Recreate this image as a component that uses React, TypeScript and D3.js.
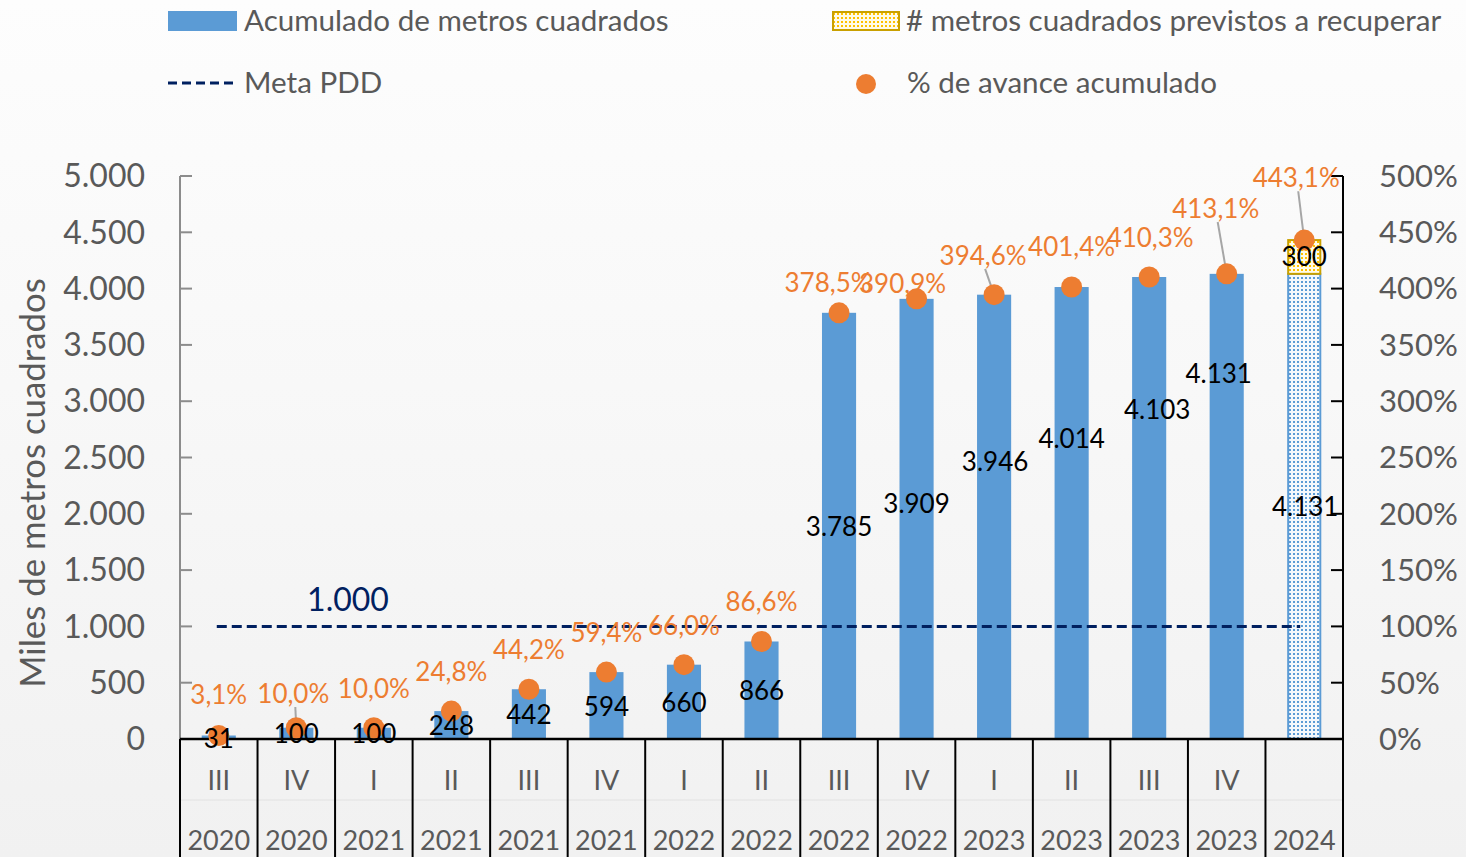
import React from "react";
import * as d3 from "d3";

const quarters = ["III", "IV", "I", "II", "III", "IV", "I", "II", "III", "IV", "I", "II", "III", "IV", ""];
const years = ["2020", "2020", "2021", "2021", "2021", "2021", "2022", "2022", "2022", "2022", "2023", "2023", "2023", "2023", "2024"];
const accumulated = [31, 100, 100, 248, 442, 594, 660, 866, 3785, 3909, 3946, 4014, 4103, 4131, 4131];
const recover = [0, 0, 0, 0, 0, 0, 0, 0, 0, 0, 0, 0, 0, 0, 300];
const progressPct = [3.1, 10.0, 10.0, 24.8, 44.2, 59.4, 66.0, 86.6, 378.5, 390.9, 394.6, 401.4, 410.3, 413.1, 443.1];
const metaPDD = 1000;
const leftTicks = [0, 500, 1000, 1500, 2000, 2500, 3000, 3500, 4000, 4500, 5000];
const rightTicks = [0, 50, 100, 150, 200, 250, 300, 350, 400, 450, 500];

// label placement (in axis units / px offsets)
const valueLabelAt = [0, 44, 44, 115, 213, 284, 320, 426, 1883, 2087, 2460, 2664, 2922, 3242, 2060];
const valueLabelDx = [0, 0, 0, 0, 0, 0, 0, 0, 0, 0, 1, 0, 8, -8, 1];
const pctLabelAt = [39, 40, 44.4, 59.5, 79, 94.1, 100.4, 121.7, 405, 404, 429, 437, 445, 470.7, 498];
const pctLabelDx = [0, -3, 0, 0, 0, 0, 0, 0, -11, -14, -11, 0, 1, -11, -8];
const leaderIdx = [1, 10, 13, 14];

const FONT = "Lato, 'Open Sans', sans-serif";
const GRAY = "#595959";
const BLUE = "#5B9BD5";
const ORANGE = "#ED7D31";
const NAVY = "#002060";

const fmtNum = (v: number) => d3.format(",")(v).replace(/,/g, ".");
const fmtPct = (v: number) => v.toFixed(1).replace(".", ",") + "%";

export default function App() {
  const W = 1466, H = 857;
  const x0 = 180, x1 = 1343, yTop = 176, yBot = 739;
  const x = d3.scaleBand<number>().domain(d3.range(accumulated.length)).range([x0, x1]).padding(0);
  const bw = x.bandwidth() * 0.44;
  const cx = (i: number) => (x(i) as number) + x.bandwidth() / 2;
  const y = d3.scaleLinear().domain([0, 5000]).range([yBot, yTop]);
  const yp = d3.scaleLinear().domain([0, 500]).range([yBot, yTop]);
  const last = accumulated.length - 1;

  return (
    <svg width={W} height={H} style={{ position: "absolute", left: 0, top: 0 }} fontFamily={FONT}>
      <defs>
        <linearGradient id="bg" x1="0" y1="0" x2="0" y2="1">
          <stop offset="0" stopColor="#fdfdfd" />
          <stop offset="0.45" stopColor="#f8f8f8" />
          <stop offset="1" stopColor="#f1f1f1" />
        </linearGradient>
        <pattern id="bluedots" width="4" height="4" patternUnits="userSpaceOnUse">
          <rect width="4" height="4" fill="#f4f8fc" />
          <rect x="1" y="1" width="2" height="2" fill={BLUE} />
        </pattern>
        <pattern id="yellowdots" width="4" height="4" patternUnits="userSpaceOnUse">
          <rect width="4" height="4" fill="#fffbe8" />
          <rect x="1" y="1" width="2" height="2" fill="#FFC000" />
        </pattern>
      </defs>
      <rect width={W} height={H} fill="url(#bg)" />

      {/* Legend */}
      <rect x={168} y={11} width={69} height={20} fill={BLUE} />
      <text x={244} y={21} dy="0.35em" fontSize={29.6} fill={GRAY}>Acumulado de metros cuadrados</text>
      <line x1={168} x2={237} y1={83} y2={83} stroke={NAVY} strokeWidth={3} strokeDasharray="9 5" />
      <text x={244} y={83} dy="0.35em" fontSize={29.6} fill={GRAY}>Meta PDD</text>
      <rect x={833} y={12} width={66} height={18} fill="url(#yellowdots)" stroke="#C9A000" strokeWidth={2} />
      <text x={906} y={21} dy="0.35em" fontSize={29.6} fill={GRAY}># metros cuadrados previstos a recuperar</text>
      <circle cx={866} cy={84} r={10} fill={ORANGE} />
      <text x={907} y={83} dy="0.35em" fontSize={29.6} fill={GRAY}>% de avance acumulado</text>

      {/* Y axis title */}
      <text transform={`translate(33,483) rotate(-90)`} textAnchor="middle" dy="0.35em" fontSize={34.8} fill={GRAY}>
        Miles de metros cuadrados
      </text>

      {/* faint row separator */}
      <line x1={x0} x2={x1} y1={800} y2={800} stroke="#e2e2e2" strokeWidth={1} />

      {/* Bars */}
      {accumulated.map((v, i) =>
        i === last ? (
          <g key={i}>
            <rect x={cx(i) - bw / 2 + 1} y={y(v)} width={bw - 2} height={y(0) - y(v)} fill="url(#bluedots)" stroke={BLUE} strokeWidth={2} />
            <rect x={cx(i) - bw / 2 + 1} y={y(v + recover[i])} width={bw - 2} height={y(v) - y(v + recover[i])} fill="url(#yellowdots)" stroke="#C9A000" strokeWidth={2} />
          </g>
        ) : (
          <rect key={i} x={cx(i) - bw / 2} y={y(v)} width={bw} height={y(0) - y(v)} fill={BLUE} />
        )
      )}

      {/* Meta PDD */}
      <line x1={cx(0) - 2} x2={cx(last) - 4} y1={y(metaPDD)} y2={y(metaPDD)} stroke={NAVY} strokeWidth={3} strokeDasharray="10 5" />
      <text x={348} y={600} textAnchor="middle" dy="0.35em" fontSize={32} fill={NAVY}>{fmtNum(metaPDD)}</text>

      {/* Axes */}
      <line x1={x0} x2={x0} y1={yTop} y2={yBot} stroke="#8c8c8c" strokeWidth={2} />
      {leftTicks.map((t) => (
        <g key={t}>
          <line x1={x0} x2={x0 + 12} y1={y(t)} y2={y(t)} stroke="#8c8c8c" strokeWidth={2} />
          <text x={145} y={y(t)} dy="0.35em" textAnchor="end" fontSize={32} fill={GRAY}>{fmtNum(t)}</text>
        </g>
      ))}
      <line x1={x1} x2={x1} y1={yTop} y2={H} stroke="#000" strokeWidth={2} />
      {rightTicks.map((t) => (
        <g key={t}>
          <line x1={x1 - 12} x2={x1} y1={yp(t)} y2={yp(t)} stroke="#000" strokeWidth={2} />
          <text x={1379} y={yp(t)} dy="0.35em" textAnchor="start" fontSize={31} fill={GRAY}>{t}%</text>
        </g>
      ))}
      <line x1={x0} x2={x1} y1={yBot} y2={yBot} stroke="#000" strokeWidth={2.5} />
      {d3.range(accumulated.length + 1).map((i) => {
        const xx = i === accumulated.length ? x1 : (x(i) as number);
        return <line key={i} x1={xx} x2={xx} y1={yBot} y2={H} stroke="#000" strokeWidth={2} />;
      })}
      {quarters.map((q, i) => (
        <text key={"q" + i} x={cx(i)} y={781} dy="0.35em" textAnchor="middle" fontSize={27} fill={GRAY}>{q}</text>
      ))}
      {years.map((q, i) => (
        <text key={"y" + i} x={cx(i)} y={841} dy="0.35em" textAnchor="middle" fontSize={27} fill={GRAY}>{q}</text>
      ))}

      {/* Leader lines */}
      {leaderIdx.map((i) => (
        <line key={"l" + i} x1={cx(i) + pctLabelDx[i] + 2} y1={yp(pctLabelAt[i]) + 13} x2={cx(i)} y2={yp(progressPct[i])} stroke="#a6a6a6" strokeWidth={2} />
      ))}

      {/* Dots */}
      {progressPct.map((p, i) => (
        <circle key={"d" + i} cx={cx(i)} cy={yp(p)} r={10.5} fill={ORANGE} />
      ))}

      {/* Value labels */}
      {accumulated.map((v, i) => (
        <text key={"v" + i} x={cx(i) + valueLabelDx[i]} y={y(valueLabelAt[i])} dy="0.35em" textAnchor="middle" fontSize={26} fill="#000">{fmtNum(v)}</text>
      ))}
      <text x={cx(last)} y={y(accumulated[last] + recover[last] / 2)} dy="0.35em" textAnchor="middle" fontSize={26} fill="#000">{fmtNum(recover[last])}</text>

      {/* Pct labels */}
      {progressPct.map((p, i) => (
        <text key={"p" + i} x={cx(i) + pctLabelDx[i]} y={yp(pctLabelAt[i])} dy="0.35em" textAnchor="middle" fontSize={26} fill={ORANGE}>{fmtPct(p)}</text>
      ))}
    </svg>
  );
}
